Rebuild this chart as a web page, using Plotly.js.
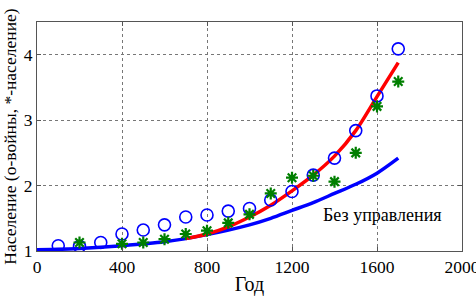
<!DOCTYPE html>
<html><head><meta charset="utf-8">
<script src="https://cdn.plot.ly/plotly-3.0.1.min.js"></script>
<style>html,body{margin:0;padding:0;background:#fff;}#chart{width:476px;height:298px;}</style>
</head><body><div id="chart"></div>
<script>
const circleYears = [100,200,300,400,500,600,700,800,900,1000,1100,1200,1300,1400,1500,1600,1700];
const circleValues = [1.08,1.07,1.13,1.26,1.32,1.40,1.52,1.55,1.61,1.65,1.78,1.91,2.16,2.42,2.84,3.37,4.09];
const starYears = [200,400,500,600,700,800,900,1000,1100,1200,1300,1400,1500,1600,1700];
const starValues = [1.13,1.11,1.13,1.18,1.26,1.31,1.43,1.56,1.88,2.12,2.15,2.06,2.50,3.21,3.59];
const redYears = [700,800,900,1000,1100,1200,1300,1400,1500,1600,1700];
const redValues = [1.19,1.26,1.37,1.52,1.70,1.92,2.16,2.45,2.84,3.36,3.88];
const blueYears = [0,200,400,600,800,1000,1100,1200,1300,1400,1500,1600,1700];
const blueValues = [1.02,1.04,1.08,1.14,1.25,1.40,1.50,1.62,1.74,1.88,2.02,2.19,2.42];
const xTicks = [0,400,800,1200,1600,2000];
const yTicks = [1,2,3,4];
const annotationText = 'Без управления';
const xTitle = 'Год';
const yTitle = 'Население (о-войны, *-население)';

const serif = 'Liberation Serif';
const traces = [
  {x: blueYears, y: blueValues, mode: 'lines', line: {color: '#0000ff', width: 3.5, shape: 'spline', smoothing: 0.8}, hoverinfo: 'skip'},
  {x: redYears, y: redValues, mode: 'lines', line: {color: '#ff0000', width: 3.5, shape: 'spline', smoothing: 0.8}, hoverinfo: 'skip'},
  {x: circleYears, y: circleValues, mode: 'markers', marker: {symbol: 'circle-open', size: 12, color: '#0000ff', line: {width: 1.6}}},
  {x: starYears, y: starValues, mode: 'markers', marker: {symbol: 'asterisk-open', size: 10, color: '#007f00', line: {width: 2.2, color: '#007f00'}}}
];
const axisCommon = {
  showgrid: true, gridcolor: '#777', griddash: 'dot', gridwidth: 1,
  zeroline: false, showline: true, mirror: 'ticks', linecolor: '#555', linewidth: 1,
  ticks: 'inside', ticklen: 4, tickcolor: '#555', ticklabeloverflow: 'allow',
  tickfont: {family: serif, size: 17.5, color: '#000'}
};
const layout = {
  width: 476, height: 298,
  margin: {l: 37, r: 14, t: 22, b: 47},
  paper_bgcolor: '#fff', plot_bgcolor: '#fff',
  showlegend: false,
  font: {family: serif},
  xaxis: Object.assign({}, axisCommon, {range: [0, 2000], tickvals: xTicks, ticktext: xTicks.map(String),
    title: {text: xTitle, font: {family: serif, size: 20, color: '#000'}, standoff: 0}}),
  yaxis: Object.assign({}, axisCommon, {range: [1, 4.5], tickvals: yTicks, ticktext: yTicks.map(String),
    title: {text: yTitle, font: {family: serif, size: 17.5, color: '#000'}, standoff: 4}}),
  annotations: [{x: 1628, y: 1.55, xref: 'x', yref: 'y', text: annotationText, showarrow: false,
    font: {family: serif, size: 18, color: '#000'}}]
};
Plotly.newPlot('chart', traces, layout, {staticPlot: true, displayModeBar: false});
</script></body></html>
